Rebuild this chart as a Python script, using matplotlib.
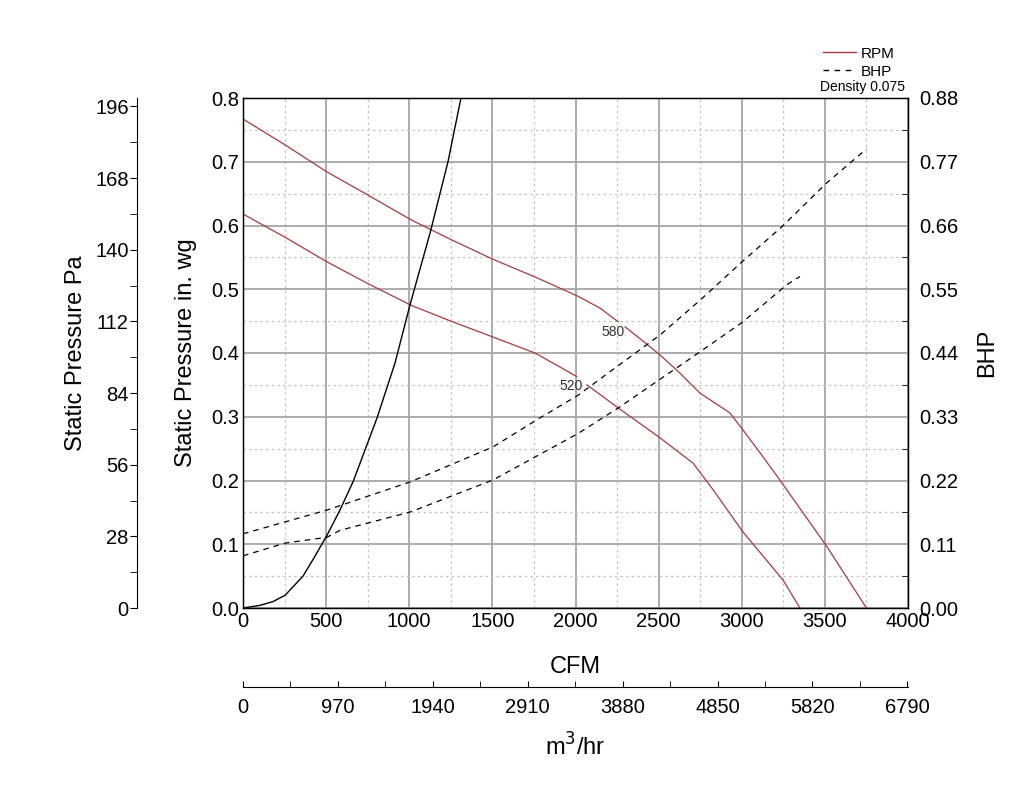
import numpy as np
import matplotlib
matplotlib.use('Agg')
import matplotlib.pyplot as plt
from matplotlib.lines import Line2D
from matplotlib.ticker import MultipleLocator, FixedLocator

plt.rcParams['font.family'] = ['Liberation Sans', 'DejaVu Sans']

#### Data (CFM vs static pressure in. wg)
nan = np.nan
cfm_580 = [0, 250, 505, 750, 1010, 1250, 1504, 1750, 2015, 2150, 2256, nan,
           2298, 2400, 2508, 2630, 2749, 2929, 3008, 3120, 3242, 3513, 3750]
sp_580 = [0.767, 0.727, 0.684, 0.648, 0.609, 0.578, 0.547, 0.520, 0.489, 0.470, 0.449, nan,
          0.441, 0.420, 0.397, 0.368, 0.337, 0.306, 0.279, 0.240, 0.196, 0.096, 0.0]
cfm_520 = [0, 250, 505, 750, 1010, 1250, 1504, 1756, 1907, 2007, nan,
           2069, 2256, 2508, 2708, 2829, 3008, 3248, 3350]
sp_520 = [0.618, 0.582, 0.543, 0.509, 0.475, 0.450, 0.425, 0.400, 0.378, 0.363, nan,
          0.350, 0.314, 0.267, 0.227, 0.185, 0.119, 0.044, 0.0]

# system curve
cfm_sys = [0, 100, 180, 253, 361, 430, 505, 580, 662, 806, 914, 1004, 1125, 1233, 1311]
sp_sys = [0, 0.004, 0.010, 0.020, 0.050, 0.080, 0.114, 0.152, 0.198, 0.298, 0.384, 0.475, 0.588, 0.700, 0.800]

# BHP curves
cfm_bhp580 = [0, 505, 1010, 1504, 1786, 2015, 2166, 2508, 2749, 3008, 3242, 3513, 3750]
bhp_580 = [0.128, 0.169, 0.218, 0.278, 0.328, 0.367, 0.399, 0.471, 0.531, 0.599, 0.658, 0.734, 0.792]
cfm_bhp520 = [0, 253, 505, 583, 1010, 1504, 2015, 2256, 2749, 3008, 3272, 3350]
bhp_520 = [0.090, 0.112, 0.122, 0.134, 0.166, 0.221, 0.301, 0.345, 0.442, 0.494, 0.558, 0.572]

rpm_labels = ['580', '520']
rpm_label_pos = [(2226, 0.433), (1973, 0.348)]

x_ticks = list(range(0, 4001, 500))
y_ticks = [0.0, 0.1, 0.2, 0.3, 0.4, 0.5, 0.6, 0.7, 0.8]
bhp_ticks = [0.0, 0.11, 0.22, 0.33, 0.44, 0.55, 0.66, 0.77, 0.88]
pa_ticks = [0, 28, 56, 84, 112, 140, 168, 196]
m3_ticks = [0, 970, 1940, 2910, 3880, 4850, 5820, 6790]

PA_PER_INWG = 249.09
M3HR_PER_CFM = 1.699

RED = '#a83a3a'
TICKFS = 14.5

#### Figure
fig = plt.figure(figsize=(10.24, 7.88), dpi=100)
ax = fig.add_axes([243/1024, 1-608/788, 665/1024, 510/788])

ax.set_xlim(0, 4000)
ax.set_ylim(0, 0.8)
ax.xaxis.set_major_locator(FixedLocator(x_ticks))
ax.xaxis.set_minor_locator(MultipleLocator(250))
ax.yaxis.set_major_locator(FixedLocator(y_ticks))
ax.yaxis.set_minor_locator(MultipleLocator(0.05))
ax.set_yticklabels(['%.1f' % v for v in y_ticks])
ax.grid(which='major', color='#a6a6a6', lw=1.3)
ax.grid(which='minor', color='#c4c4c4', lw=0.9, linestyle=(0, (2, 2.5)))
ax.tick_params(which='both', direction='in', length=0, labelsize=TICKFS, pad=3)
for s in ax.spines.values():
	s.set_linewidth(1.0)

ax.plot(cfm_580, sp_580, color=RED, lw=0.9)
ax.plot(cfm_520, sp_520, color=RED, lw=0.9)
ax.plot(cfm_sys, sp_sys, color='black', lw=1.0)
for lab, (lx, ly) in zip(rpm_labels, rpm_label_pos):
	ax.text(lx, ly, lab, fontsize=10, color='#333333', ha='center', va='center')

ax.set_xlabel('CFM', fontsize=17, labelpad=18)
ax.set_ylabel('Static Pressure in. wg', fontsize=17, labelpad=10)

# Right BHP axis
axb = ax.twinx()
axb.set_ylim(0, 0.88)
axb.yaxis.set_major_locator(FixedLocator(bhp_ticks))
axb.yaxis.set_minor_locator(MultipleLocator(0.055))
axb.set_yticklabels(['%.2f' % v for v in bhp_ticks])
axb.tick_params(which='major', direction='in', length=0, labelsize=TICKFS, pad=8)
axb.tick_params(which='minor', direction='in', length=4)
axb.plot(cfm_bhp580, bhp_580, color='black', lw=0.9, dashes=(4.5, 4))
axb.plot(cfm_bhp520, bhp_520, color='black', lw=0.9, dashes=(4.5, 4))
axb.set_ylabel('BHP', fontsize=17, labelpad=13)

# Left Pa axis
axp = ax.twinx()
axp.set_ylim(0, 0.8*PA_PER_INWG)
axp.spines['left'].set_position(('axes', (137-243)/665))
axp.spines['left'].set_visible(True)
axp.spines['right'].set_visible(False)
axp.spines['top'].set_visible(False)
axp.spines['bottom'].set_visible(False)
axp.yaxis.set_label_position('left')
axp.yaxis.set_ticks_position('left')
axp.yaxis.set_major_locator(FixedLocator(pa_ticks))
axp.yaxis.set_minor_locator(FixedLocator([t + 14 for t in pa_ticks[:-1]]))
axp.tick_params(which='both', direction='out', length=5, labelsize=TICKFS, pad=1)
axp.set_ylabel('Static Pressure Pa', fontsize=17, labelpad=6)

# Bottom m3/hr axis
axm = ax.twiny()
axm.set_xlim(0, 4000*M3HR_PER_CFM)
axm.spines['bottom'].set_position(('axes', (608-687)/510))
for k in ['left', 'right', 'top']:
	axm.spines[k].set_visible(False)
axm.spines['bottom'].set_visible(True)
axm.xaxis.set_label_position('bottom')
axm.xaxis.set_ticks_position('bottom')
axm.xaxis.set_major_locator(FixedLocator(m3_ticks))
axm.xaxis.set_minor_locator(FixedLocator([t + 485 for t in m3_ticks[:-1]]))
axm.tick_params(which='both', direction='in', length=4, labelsize=TICKFS, pad=8)
axm.set_xlabel('m$^3$/hr', fontsize=17, labelpad=12)
plt.rcParams['mathtext.fontset'] = 'custom'
plt.rcParams['mathtext.rm'] = 'Liberation Sans'
plt.rcParams['mathtext.default'] = 'rm'

# Legend
handles = [Line2D([], [], color=RED, lw=1.0),
           Line2D([], [], color='black', lw=1.0, dashes=(4, 4))]
fig.legend(handles, ['RPM', 'BHP'], loc='upper left', bbox_to_anchor=(812/1024, 1-36/788),
           frameon=False, fontsize=11, handlelength=2.2, handletextpad=0.3,
           labelspacing=0.25, borderpad=0.2)
fig.text(820/1024, 1-87/788, 'Density 0.075', fontsize=10, va='center', ha='left')

plt.savefig('out.png', dpi=100)
